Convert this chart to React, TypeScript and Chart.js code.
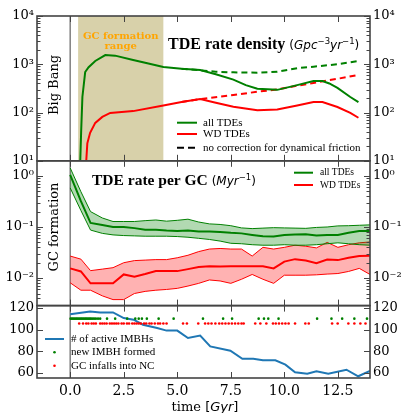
import React, { useEffect, useRef } from 'react';
import { Chart, registerables } from 'chart.js';
Chart.register(...registerables);

// ---------- axes ----------
const X_MIN = -1.55;
const X_MAX = 14.0;
const X_TICKS = [0, 2.5, 5, 7.5, 10, 12.5];
const TOP_MIN = 10, TOP_MAX = 1e4;
const TOP_TICKS = [10, 100, 1000, 10000];
const MID_MIN = 0.0029, MID_MAX = 1.97;
const MID_TICKS = [0.01, 0.1, 1];
const BOT_MIN = 55.4, BOT_MAX = 122;
const BOT_TICKS = [60, 80, 100, 120];
const GC_RANGE = [0.37, 4.35];

// ---------- panel 1: TDE rate density ----------
const RATE_ALL_T = [0.47, 0.51, 0.57, 0.7, 0.86, 1.17, 1.64, 2.1, 2.94, 3.6, 4.35, 5.2, 6.07, 6.8, 7.62, 8.2, 8.74, 9.67, 10.6, 11.36, 11.78, 12.1, 12.48, 13.08, 13.46];
const RATE_ALL = [10, 38, 210, 690, 870, 1170, 1550, 1510, 1230, 1050, 880, 810, 760, 620, 480, 370, 310, 295, 370, 450, 450, 400, 325, 210, 165];
const RATE_WD_T = [0.75, 0.8, 0.93, 1.17, 1.5, 1.87, 2.94, 4.35, 5.2, 6.07, 6.8, 7.62, 8.74, 9.67, 10.6, 11.36, 11.78, 12.48, 13.08, 13.46];
const RATE_WD = [10, 23, 38, 61, 81, 98, 107, 140, 165, 190, 160, 132, 112, 115, 140, 165, 165, 130, 98, 78];
const NODF_ALL_T = [5.2, 6.07, 6.8, 7.62, 8.74, 9.67, 10.6, 11.36, 12.48, 13.46];
const NODF_ALL = [810, 750, 700, 680, 670, 700, 830, 890, 1000, 1170];
const NODF_WD_T = [5.2, 6.07, 7.62, 8.74, 9.67, 10.6, 11.36, 12.48, 13.46];
const NODF_WD = [165, 190, 230, 270, 300, 360, 410, 500, 600];

// ---------- panel 2: TDE rate per GC ----------
const GC_T = [0, 0.5, 0.95, 1.5, 2.0, 2.5, 3.0, 3.5, 4.0, 4.5, 5.0, 5.5, 6.0, 6.5, 7.0, 7.5, 8.0, 8.5, 9.0, 9.5, 10.0, 10.5, 11.0, 11.5, 12.0, 12.5, 13.0, 13.5, 14.0];
const GC_ALL = [1.05, 0.32, 0.12, 0.109, 0.1, 0.1, 0.095, 0.088, 0.088, 0.085, 0.083, 0.085, 0.082, 0.082, 0.08, 0.077, 0.075, 0.07, 0.066, 0.065, 0.07, 0.071, 0.072, 0.068, 0.07, 0.07, 0.077, 0.083, 0.083];
const GC_ALL_HI = [1.43, 0.49, 0.2, 0.15, 0.128, 0.128, 0.128, 0.133, 0.137, 0.13, 0.135, 0.142, 0.125, 0.115, 0.112, 0.106, 0.096, 0.093, 0.095, 0.097, 0.096, 0.095, 0.094, 0.098, 0.1, 0.105, 0.106, 0.108, 0.11];
const GC_ALL_LO = [0.58, 0.21, 0.087, 0.075, 0.07, 0.068, 0.067, 0.066, 0.066, 0.066, 0.065, 0.063, 0.06, 0.057, 0.053, 0.048, 0.047, 0.045, 0.044, 0.044, 0.045, 0.044, 0.044, 0.045, 0.047, 0.049, 0.047, 0.045, 0.044];
const GC_WD = [0.0155, 0.0135, 0.0079, 0.0079, 0.0079, 0.0118, 0.0107, 0.012, 0.0137, 0.0137, 0.0137, 0.015, 0.0165, 0.017, 0.0168, 0.017, 0.017, 0.017, 0.017, 0.0155, 0.021, 0.0235, 0.022, 0.0195, 0.023, 0.0225, 0.025, 0.027, 0.0275];
const GC_WD_HI = [0.027, 0.0235, 0.014, 0.015, 0.016, 0.02, 0.022, 0.0225, 0.023, 0.023, 0.025, 0.028, 0.033, 0.037, 0.038, 0.037, 0.037, 0.027, 0.04, 0.037, 0.04, 0.044, 0.042, 0.039, 0.05, 0.04, 0.045, 0.049, 0.051];
const GC_WD_LO = [0.0081, 0.0058, 0.0058, 0.0045, 0.0038, 0.0038, 0.005, 0.0055, 0.0058, 0.006, 0.0063, 0.007, 0.0079, 0.0092, 0.0088, 0.0079, 0.0095, 0.0118, 0.0095, 0.0079, 0.0114, 0.0114, 0.0114, 0.0116, 0.012, 0.0123, 0.0135, 0.0155, 0.0118];

// ---------- panel 3: IMBHs ----------
const IMBH_T = [0, 0.93, 1.4, 2.0, 2.5, 2.96, 3.4, 4.06, 4.5, 5.0, 5.5, 6.07, 6.54, 7.48, 8.04, 8.55, 9.0, 9.58, 10.05, 10.5, 11.07, 11.5, 12.05, 12.9, 13.45, 14.0];
const IMBH_N = [114, 116.6, 115.7, 115.7, 110.5, 109, 104.4, 101.4, 99, 99, 92.2, 94.5, 84.5, 80.5, 73, 73, 71.7, 71.7, 67.7, 60.6, 59.4, 61.6, 59.4, 63, 57, 62];
const NEW_IMBH_T = [0.02, 0.08, 0.14, 0.2, 0.26, 0.32, 0.38, 0.44, 0.5, 0.56, 0.62, 0.68, 0.74, 0.8, 0.86, 0.92, 0.98, 1.05, 1.12, 1.2, 1.3, 1.4, 1.72, 2.1, 2.66, 3.04, 3.2, 3.35, 3.58, 4.13, 4.83, 6.2, 7.14, 7.56, 8.8, 9.05, 9.25, 9.73, 11.53, 12.2, 12.7, 13.27, 13.86];
const NEW_IMBH_Y = 110;
const INFALL_T = [0.42, 0.6, 0.75, 0.85, 1.0, 1.1, 1.2, 1.4, 1.5, 1.6, 1.7, 1.85, 1.95, 2.05, 2.15, 2.25, 2.4, 2.5, 2.65, 2.75, 2.9, 3.0, 3.1, 3.2, 3.3, 3.45, 3.55, 3.7, 3.8, 3.95, 4.1, 4.2, 4.35, 4.5, 5.27, 5.45, 5.98, 6.3, 6.45, 6.6, 6.78, 6.96, 7.1, 7.25, 7.4, 7.55, 7.7, 7.85, 8.0, 8.1, 8.64, 8.88, 9.16, 9.47, 9.6, 9.75, 9.9, 10.05, 10.2, 10.5, 10.98, 11.14, 12.23, 12.49, 12.99, 13.27, 13.55, 13.79];
const INFALL_Y = 105.5;

const GREEN = '#008000';
const RED = '#ff0000';
const BLUE = '#1f77b4';
const SPINE = '#444444';

const zip = (xs: number[], ys: number[]) => xs.map((x, i) => ({ x, y: ys[i] }));
const flat = (xs: number[], y: number) => xs.map((x) => ({ x, y }));

const SUP: Record<string, string> = { '0': '⁰', '1': '¹', '2': '²', '3': '³', '4': '⁴', '5': '⁵', '6': '⁶', '7': '⁷', '8': '⁸', '9': '⁹', '-': '⁻' };
const logLabel = (v: number) => {
  const e = Math.round(Math.log10(v));
  return '10' + String(e).split('').map((c) => SUP[c]).join('');
};

type Seg = { t: string; f: string; dy?: number };
function drawRich(ctx: CanvasRenderingContext2D, x: number, y: number, segs: Seg[], align: 'left' | 'center' = 'left') {
  let w = 0;
  for (const s of segs) { ctx.font = s.f; w += ctx.measureText(s.t).width; }
  let cx = align === 'center' ? x - w / 2 : x;
  ctx.textAlign = 'left';
  ctx.textBaseline = 'alphabetic';
  for (const s of segs) {
    ctx.font = s.f;
    ctx.fillText(s.t, cx, y + (s.dy || 0));
    cx += ctx.measureText(s.t).width;
  }
}

const decor = {
  id: 'decor',
  beforeDatasetsDraw(chart: any) {
    const { ctx, chartArea } = chart;
    const x = chart.scales.x;
    const y1 = chart.scales.yTop;
    ctx.save();
    const xa = x.getPixelForValue(GC_RANGE[0]);
    const xb = x.getPixelForValue(GC_RANGE[1]);
    ctx.fillStyle = 'rgb(216,209,170)';
    ctx.fillRect(xa, y1.top, xb - xa, y1.bottom - y1.top);
    const x0 = x.getPixelForValue(0);
    ctx.strokeStyle = '#808080';
    ctx.lineWidth = 1.5;
    ctx.beginPath();
    ctx.moveTo(x0, chartArea.top);
    ctx.lineTo(x0, chartArea.bottom);
    ctx.stroke();
    ctx.restore();
  },
  afterDatasetsDraw(chart: any) {
    const { ctx } = chart;
    const x = chart.scales.x;
    const panels = [chart.scales.yTop, chart.scales.yMid, chart.scales.yBot];
    const L = x.left, R = x.right;
    ctx.save();
    // ticks
    ctx.strokeStyle = SPINE;
    ctx.lineWidth = 1;
    const hline = (yy: number, len: number) => {
      ctx.beginPath();
      ctx.moveTo(L, yy); ctx.lineTo(L + len, yy);
      ctx.moveTo(R, yy); ctx.lineTo(R - len, yy);
      ctx.stroke();
    };
    panels.forEach((s: any, i: number) => {
      if (i < 2) {
        const lo = Math.floor(Math.log10(s.min));
        const hi = Math.ceil(Math.log10(s.max));
        for (let d = lo; d <= hi; d++) {
          for (let m = 1; m <= 9; m++) {
            const v = m * Math.pow(10, d);
            if (v < s.min * 0.999 || v > s.max * 1.001) continue;
            hline(Math.round(s.getPixelForValue(v)) + 0.5, m === 1 ? 6 : 3.5);
          }
        }
      } else {
        BOT_TICKS.forEach((v) => hline(Math.round(s.getPixelForValue(v)) + 0.5, 6));
      }
      X_TICKS.forEach((v) => {
        const px = Math.round(x.getPixelForValue(v)) + 0.5;
        ctx.beginPath();
        ctx.moveTo(px, s.top); ctx.lineTo(px, s.top + 6);
        ctx.moveTo(px, s.bottom); ctx.lineTo(px, s.bottom - 6);
        ctx.stroke();
      });
    });
    // spines
    ctx.strokeStyle = SPINE;
    ctx.lineWidth = 1.6;
    panels.forEach((s: any) => ctx.strokeRect(L, s.top, R - L, s.bottom - s.top));

    ctx.fillStyle = '#000';
    // titles
    drawRich(ctx, 168, 48.5, [
      { t: 'TDE rate density ', f: 'bold 16px "Liberation Serif"' },
      { t: '(', f: '12px "DejaVu Sans"' },
      { t: 'Gpc', f: 'italic 12px "DejaVu Sans"' },
      { t: '−3', f: '8.5px "DejaVu Sans"', dy: -5 },
      { t: 'yr', f: 'italic 12px "DejaVu Sans"' },
      { t: '−1', f: '8.5px "DejaVu Sans"', dy: -5 },
      { t: ')', f: '12px "DejaVu Sans"' },
    ]);
    drawRich(ctx, 92, 185, [
      { t: 'TDE rate per GC ', f: 'bold 15.5px "Liberation Serif"' },
      { t: '(', f: '12px "DejaVu Sans"' },
      { t: 'Myr', f: 'italic 12px "DejaVu Sans"' },
      { t: '−1', f: '8.5px "DejaVu Sans"', dy: -5 },
      { t: ')', f: '12px "DejaVu Sans"' },
    ]);
    // GC formation range
    const xc = (x.getPixelForValue(GC_RANGE[0]) + x.getPixelForValue(GC_RANGE[1])) / 2;
    ctx.fillStyle = '#FFA500';
    ctx.font = 'bold 10px "DejaVu Serif"';
    ctx.textAlign = 'center';
    ctx.textBaseline = 'alphabetic';
    ctx.fillText('GC formation', xc, 38.5);
    ctx.fillText('range', xc, 48.5);
    // rotated labels
    ctx.fillStyle = '#000';
    ctx.font = '13px "DejaVu Serif"';
    const rot = (t: string, cx: number, cy: number) => {
      ctx.save();
      ctx.translate(cx, cy);
      ctx.rotate(-Math.PI / 2);
      ctx.textAlign = 'center';
      ctx.textBaseline = 'middle';
      ctx.fillText(t, 0, 0);
      ctx.restore();
    };
    rot('Big Bang', 54.5, 85);
    rot('GC formation', 54.5, 227);
    // x title
    drawRich(ctx, 205, 411, [
      { t: 'time ', f: '13px "DejaVu Serif"' },
      { t: '[', f: '13px "DejaVu Sans"' },
      { t: 'Gyr', f: 'italic 13px "DejaVu Sans"' },
      { t: ']', f: '13px "DejaVu Sans"' },
    ], 'center');

    // legends
    const legLine = (x1: number, x2: number, yy: number, color: string, dash: number[] = [], lw = 2) => {
      ctx.save();
      ctx.strokeStyle = color; ctx.lineWidth = lw; ctx.setLineDash(dash);
      ctx.beginPath(); ctx.moveTo(x1, yy); ctx.lineTo(x2, yy); ctx.stroke();
      ctx.restore();
    };
    const legText = (t: string, xx: number, yy: number, size: number) => {
      ctx.fillStyle = '#000';
      ctx.font = size + 'px "Liberation Serif"';
      ctx.textAlign = 'left';
      ctx.textBaseline = 'middle';
      ctx.fillText(t, xx, yy);
    };
    legLine(177, 197, 122.7, GREEN);
    legLine(177, 197, 134, RED);
    legLine(177, 197, 147.7, '#000', [7, 4]);
    legText('all TDEs', 203, 122.7, 11);
    legText('WD TDEs', 203, 134, 11);
    legText('no correction for dynamical friction', 203, 147.7, 11);

    legLine(294, 313, 172.7, GREEN);
    legLine(294, 313, 185, RED);
    legText('all TDEs', 320, 172.7, 9.5);
    legText('WD TDEs', 320, 185, 9.5);

    legLine(45, 64, 339, BLUE);
    ctx.fillStyle = GREEN; ctx.beginPath(); ctx.arc(54.5, 352.3, 1.3, 0, Math.PI * 2); ctx.fill();
    ctx.fillStyle = RED; ctx.beginPath(); ctx.arc(54.5, 365.7, 1.3, 0, Math.PI * 2); ctx.fill();
    legText('# of active IMBHs', 71, 339, 11);
    legText('new IMBH formed', 71, 352.3, 11);
    legText('GC infalls into NC', 71, 365.7, 11);
    ctx.restore();
  },
};

const tickFont = { family: 'DejaVu Serif', size: 13 };
const yAxis = (type: string, min: number, max: number, ticks: number[], pos: 'left' | 'right', weight: number, stackWeight: number, label: (v: number) => string) => ({
  type,
  min,
  max,
  position: pos,
  stack: pos,
  stackWeight,
  weight,
  grid: { display: false, drawTicks: false },
  border: { display: false },
  afterBuildTicks: (s: any) => { s.ticks = ticks.map((v) => ({ value: v })); },
  afterFit: (s: any) => { s.width = 37; },
  ticks: { autoSkip: false, padding: 3, color: '#000', font: tickFont, callback: (v: any) => label(Number(v)) },
});

export default function App() {
  const ref = useRef<HTMLCanvasElement>(null);
  useEffect(() => {
    const line = (data: any[], yAxisID: string, color: string, extra: any = {}) => ({
      type: 'line', data, yAxisID, xAxisID: 'x', borderColor: color, backgroundColor: color,
      borderWidth: 2, pointRadius: 0, fill: false, tension: 0, ...extra,
    });
    const dots = (data: any[], color: string) => ({
      type: 'line', data, yAxisID: 'yBot', xAxisID: 'x', showLine: false,
      pointRadius: 1.3, pointBorderWidth: 0, pointBackgroundColor: color, borderColor: color, backgroundColor: color,
    });
    const intLabel = (v: number) => String(Math.round(v));
    const chart = new Chart(ref.current as HTMLCanvasElement, {
      type: 'line',
      data: {
        datasets: [
          line(zip(RATE_ALL_T, RATE_ALL), 'yTop', GREEN),
          line(zip(RATE_WD_T, RATE_WD), 'yTop', RED),
          line(zip(NODF_ALL_T, NODF_ALL), 'yTop', GREEN, { borderDash: [6, 4] }),
          line(zip(NODF_WD_T, NODF_WD), 'yTop', RED, { borderDash: [6, 4] }),
          line(zip(GC_T, GC_ALL), 'yMid', GREEN),
          line(zip(GC_T, GC_ALL_HI), 'yMid', GREEN, { borderWidth: 1, fill: '+1', backgroundColor: 'rgba(0,128,0,0.3)' }),
          line(zip(GC_T, GC_ALL_LO), 'yMid', GREEN, { borderWidth: 1 }),
          line(zip(GC_T, GC_WD), 'yMid', RED),
          line(zip(GC_T, GC_WD_HI), 'yMid', RED, { borderWidth: 1, fill: '+1', backgroundColor: 'rgba(255,0,0,0.3)' }),
          line(zip(GC_T, GC_WD_LO), 'yMid', RED, { borderWidth: 1 }),
          dots(flat(NEW_IMBH_T, NEW_IMBH_Y), GREEN),
          dots(flat(INFALL_T, INFALL_Y), RED),
          line(zip(IMBH_T, IMBH_N), 'yBot', BLUE),
        ] as any,
      },
      options: {
        animation: false,
        responsive: false,
        devicePixelRatio: 1,
        layout: { padding: { top: 16, left: 0, right: 0, bottom: 0 } },
        plugins: { legend: { display: false }, title: { display: false }, tooltip: { enabled: false } },
        scales: {
          x: {
            type: 'linear', min: X_MIN, max: X_MAX, position: 'bottom',
            grid: { display: false, drawTicks: false }, border: { display: false },
            afterBuildTicks: (s: any) => { s.ticks = X_TICKS.map((v) => ({ value: v })); },
            afterFit: (s: any) => { s.height = 35; },
            ticks: { autoSkip: false, padding: 5, maxRotation: 0, color: '#000', font: { family: 'DejaVu Serif', size: 14 }, callback: (v: any) => Number(v).toFixed(1) },
          },
          yTop: yAxis('logarithmic', TOP_MIN, TOP_MAX, TOP_TICKS, 'left', 3, 2, logLabel),
          yMid: yAxis('logarithmic', MID_MIN, MID_MAX, MID_TICKS, 'left', 2, 2, logLabel),
          yBot: yAxis('linear', BOT_MIN, BOT_MAX, BOT_TICKS, 'left', 1, 1, intLabel),
          rTop: yAxis('logarithmic', TOP_MIN, TOP_MAX, TOP_TICKS, 'right', 1, 2, logLabel),
          rMid: yAxis('logarithmic', MID_MIN, MID_MAX, MID_TICKS, 'right', 2, 2, logLabel),
          rBot: yAxis('linear', BOT_MIN, BOT_MAX, BOT_TICKS, 'right', 3, 1, intLabel),
        } as any,
      },
      plugins: [decor],
    });
    return () => chart.destroy();
  }, []);
  return (
    <div style={{ position: 'fixed', left: 0, top: 0, width: 407, height: 413, background: '#fff' }}>
      <canvas ref={ref} width={407} height={413} style={{ width: 407, height: 413, display: 'block' }} />
    </div>
  );
}
